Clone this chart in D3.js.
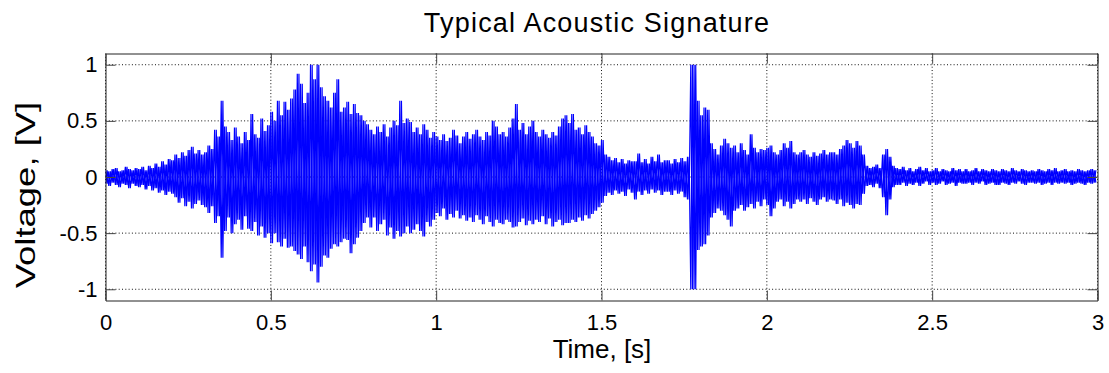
<!DOCTYPE html>
<html>
<head>
<meta charset="utf-8">
<script src="https://cdn.jsdelivr.net/npm/d3@7"></script>
<style>
  body { margin: 0; background: #fff; }
  svg { display: block; font-family: "Liberation Sans", Arial, Helvetica, sans-serif; }
</style>
</head>
<body>
<figure id="sig" style="margin:0"></figure>
<script>
// chart text
const titleText = "Typical Acoustic Signature";
const xLabel = "Time, [s]";
const yLabel = "Voltage, [V]";

// axis ticks
const xTicks = [0, 0.5, 1, 1.5, 2, 2.5, 3];
const xTickLabels = ["0", "0.5", "1", "1.5", "2", "2.5", "3"];
const yTicks = [-1, -0.5, 0, 0.5, 1];
const yTickLabels = ["-1", "-0.5", "0", "0.5", "1"];

// signal envelope, one bin per 10 ms (0.00 .. 2.99 s)
const binWidth = 0.01;
const hi = [
  0.06,0.05,0.07,0.08,0.05,0.06,0.09,0.07,0.06,0.08,
  0.07,0.09,0.06,0.10,0.08,0.12,0.09,0.14,0.11,0.16,
  0.15,0.20,0.17,0.22,0.19,0.24,0.27,0.21,0.24,0.20,
  0.22,0.28,0.25,0.42,0.36,0.68,0.45,0.40,0.33,0.44,
  0.36,0.30,0.40,0.33,0.56,0.38,0.35,0.52,0.41,0.46,
  0.58,0.50,0.68,0.55,0.67,0.60,0.70,0.78,0.92,0.83,
  0.66,0.75,1.00,0.87,1.00,0.80,0.72,0.68,0.62,0.75,
  0.87,0.58,0.62,0.67,0.56,0.65,0.57,0.55,0.50,0.47,
  0.42,0.38,0.45,0.40,0.47,0.36,0.44,0.50,0.46,0.68,
  0.48,0.52,0.49,0.40,0.44,0.38,0.47,0.42,0.35,0.40,
  0.36,0.33,0.38,0.32,0.35,0.42,0.37,0.30,0.36,0.40,
  0.34,0.38,0.42,0.36,0.33,0.40,0.37,0.50,0.45,0.38,
  0.40,0.36,0.44,0.52,0.65,0.42,0.48,0.38,0.45,0.50,
  0.40,0.36,0.42,0.38,0.35,0.40,0.37,0.45,0.52,0.55,
  0.48,0.56,0.42,0.44,0.38,0.46,0.40,0.36,0.30,0.28,
  0.33,0.20,0.18,0.15,0.17,0.13,0.16,0.12,0.15,0.14,
  0.14,0.21,0.13,0.16,0.12,0.18,0.14,0.20,0.13,0.15,
  0.15,0.12,0.16,0.13,0.17,0.14,0.18,1.00,1.00,0.68,
  0.55,0.62,0.60,0.30,0.25,0.20,0.28,0.34,0.30,0.26,
  0.28,0.22,0.30,0.24,0.20,0.38,0.26,0.22,0.25,0.24,
  0.26,0.28,0.22,0.20,0.24,0.30,0.26,0.32,0.22,0.20,
  0.22,0.24,0.20,0.18,0.22,0.19,0.21,0.24,0.20,0.22,
  0.22,0.20,0.25,0.28,0.33,0.30,0.26,0.32,0.28,0.20,
  0.10,0.08,0.09,0.11,0.08,0.20,0.25,0.18,0.10,0.08,
  0.07,0.09,0.06,0.08,0.05,0.07,0.09,0.06,0.08,0.05,
  0.06,0.08,0.05,0.07,0.06,0.05,0.08,0.06,0.07,0.05,
  0.07,0.05,0.06,0.08,0.05,0.07,0.06,0.05,0.07,0.06,
  0.05,0.07,0.06,0.05,0.08,0.06,0.05,0.07,0.06,0.05,
  0.06,0.05,0.07,0.06,0.05,0.07,0.06,0.08,0.05,0.06,
  0.07,0.05,0.06,0.05,0.07,0.06,0.05,0.06,0.07,0.06
];
const lo = [
  -0.06,-0.08,-0.05,-0.07,-0.09,-0.06,-0.07,-0.10,-0.06,-0.08,
  -0.09,-0.07,-0.11,-0.08,-0.12,-0.10,-0.14,-0.12,-0.16,-0.13,
  -0.15,-0.18,-0.23,-0.19,-0.26,-0.22,-0.28,-0.24,-0.21,-0.25,
  -0.27,-0.32,-0.26,-0.41,-0.35,-0.72,-0.48,-0.36,-0.50,-0.42,
  -0.38,-0.47,-0.35,-0.46,-0.48,-0.40,-0.52,-0.44,-0.54,-0.50,
  -0.59,-0.50,-0.58,-0.62,-0.55,-0.63,-0.62,-0.66,-0.69,-0.73,
  -0.62,-0.76,-0.84,-0.78,-0.94,-0.80,-0.70,-0.72,-0.64,-0.60,
  -0.62,-0.58,-0.55,-0.56,-0.68,-0.60,-0.54,-0.48,-0.41,-0.36,
  -0.45,-0.36,-0.48,-0.42,-0.38,-0.52,-0.45,-0.55,-0.48,-0.53,
  -0.50,-0.44,-0.50,-0.47,-0.42,-0.48,-0.53,-0.40,-0.44,-0.38,
  -0.32,-0.35,-0.28,-0.38,-0.33,-0.36,-0.30,-0.37,-0.34,-0.39,
  -0.36,-0.40,-0.34,-0.38,-0.42,-0.35,-0.40,-0.44,-0.38,-0.41,
  -0.42,-0.38,-0.40,-0.45,-0.44,-0.40,-0.37,-0.43,-0.39,-0.42,
  -0.38,-0.40,-0.35,-0.42,-0.37,-0.44,-0.40,-0.38,-0.43,-0.41,
  -0.41,-0.38,-0.40,-0.36,-0.39,-0.34,-0.37,-0.33,-0.30,-0.27,
  -0.23,-0.17,-0.14,-0.16,-0.12,-0.15,-0.13,-0.17,-0.11,-0.14,
  -0.20,-0.13,-0.16,-0.12,-0.15,-0.11,-0.14,-0.12,-0.16,-0.13,
  -0.13,-0.16,-0.12,-0.15,-0.13,-0.18,-0.20,-1.00,-1.00,-0.65,
  -0.62,-0.60,-0.52,-0.36,-0.32,-0.28,-0.30,-0.34,-0.38,-0.44,
  -0.30,-0.28,-0.25,-0.30,-0.27,-0.24,-0.28,-0.22,-0.26,-0.20,
  -0.25,-0.35,-0.28,-0.22,-0.20,-0.26,-0.22,-0.28,-0.24,-0.20,
  -0.22,-0.20,-0.24,-0.19,-0.22,-0.25,-0.20,-0.18,-0.22,-0.20,
  -0.21,-0.24,-0.20,-0.26,-0.23,-0.25,-0.28,-0.24,-0.25,-0.15,
  -0.08,-0.07,-0.09,-0.06,-0.10,-0.18,-0.34,-0.20,-0.09,-0.07,
  -0.07,-0.05,-0.08,-0.06,-0.07,-0.05,-0.08,-0.06,-0.04,-0.07,
  -0.05,-0.07,-0.06,-0.04,-0.07,-0.06,-0.05,-0.08,-0.05,-0.06,
  -0.06,-0.05,-0.07,-0.05,-0.06,-0.04,-0.07,-0.06,-0.05,-0.07,
  -0.07,-0.05,-0.06,-0.07,-0.05,-0.06,-0.04,-0.06,-0.07,-0.05,
  -0.05,-0.06,-0.05,-0.07,-0.06,-0.05,-0.07,-0.05,-0.06,-0.05,
  -0.06,-0.05,-0.07,-0.06,-0.05,-0.06,-0.07,-0.05,-0.06,-0.05
];

const W = 1109, H = 373;
const margin = { top: 53.5, right: 11.5, bottom: 72.5, left: 105.5 };
const width = W - margin.left - margin.right;
const height = H - margin.top - margin.bottom;

const svg = d3.select("figure#sig")
  .append("svg")
  .attr("width", W)
  .attr("height", H);

const g = svg.append("g")
  .attr("transform", "translate(" + margin.left + "," + margin.top + ")");

const x = d3.scaleLinear().domain([0, 3]).range([0, width]);
const y = d3.scaleLinear().domain([-1.1, 1.1]).range([height, 0]);

// dotted grid
g.append("g").selectAll("line")
  .data(xTicks)
  .enter().append("line")
  .attr("x1", d => x(d)).attr("x2", d => x(d))
  .attr("y1", 0).attr("y2", height)
  .attr("stroke", "#111").attr("stroke-dasharray", "1,2.3");
g.append("g").selectAll("line")
  .data(yTicks)
  .enter().append("line")
  .attr("x1", 0).attr("x2", width)
  .attr("y1", d => y(d)).attr("y2", d => y(d))
  .attr("stroke", "#111").attr("stroke-dasharray", "1,2.3");

// waveform: two interleaved zigzags through each bin's max and min
const half = binWidth / 2;
const zigA = [], zigB = [];
hi.forEach((v, i) => {
  const t = i * binWidth;
  zigA.push([t, v], [t + half, lo[i]]);
  zigB.push([t, lo[i]], [t + half, v]);
});

g.append("clipPath").attr("id", "clip")
  .append("rect").attr("width", width).attr("height", height);

const wave = d3.line().x(d => x(d[0])).y(d => y(d[1]));
g.append("g")
  .attr("clip-path", "url(#clip)")
  .selectAll("path")
  .data([zigA, zigB])
  .enter().append("path")
  .attr("fill", "none")
  .attr("stroke", "#0000ff")
  .attr("stroke-width", 1.2)
  .attr("stroke-linejoin", "bevel")
  .attr("d", wave);

// axes, ticks pointing inward
const axBottom = g.append("g")
  .attr("transform", "translate(0," + height + ")")
  .call(d3.axisBottom(x).tickValues(xTicks).tickFormat((d, i) => xTickLabels[i])
    .tickSizeInner(-10).tickSizeOuter(0).tickPadding(14));
const axLeft = g.append("g")
  .call(d3.axisLeft(y).tickValues(yTicks).tickFormat((d, i) => yTickLabels[i])
    .tickSizeInner(-10).tickSizeOuter(0).tickPadding(8));
const axTop = g.append("g")
  .call(d3.axisTop(x).tickValues(xTicks).tickFormat("").tickSizeInner(-10).tickSizeOuter(0));
const axRight = g.append("g")
  .attr("transform", "translate(" + width + ",0)")
  .call(d3.axisRight(y).tickValues(yTicks).tickFormat("").tickSizeInner(-10).tickSizeOuter(0));

[axBottom, axLeft, axTop, axRight].forEach(a => {
  a.select(".domain").attr("stroke", "#222");
  a.selectAll(".tick line").attr("stroke", "#444");
  a.selectAll("text")
    .attr("fill", "#000")
    .style("font-size", "22px")
    .style("font-family", "'Liberation Sans', Arial, sans-serif");
});

// title and labels
svg.append("text")
  .attr("x", 597).attr("y", 31.5)
  .attr("text-anchor", "middle")
  .style("font-size", "27px")
  .style("letter-spacing", "1.2px")
  .text(titleText);

svg.append("text")
  .attr("x", 602).attr("y", 358)
  .attr("text-anchor", "middle")
  .style("font-size", "26px")
  .text(xLabel);

svg.append("text")
  .attr("transform", "translate(35,195) rotate(-90) scale(1.35,1)")
  .attr("text-anchor", "middle")
  .style("font-size", "27px")
  .text(yLabel);
</script>
</body>
</html>
